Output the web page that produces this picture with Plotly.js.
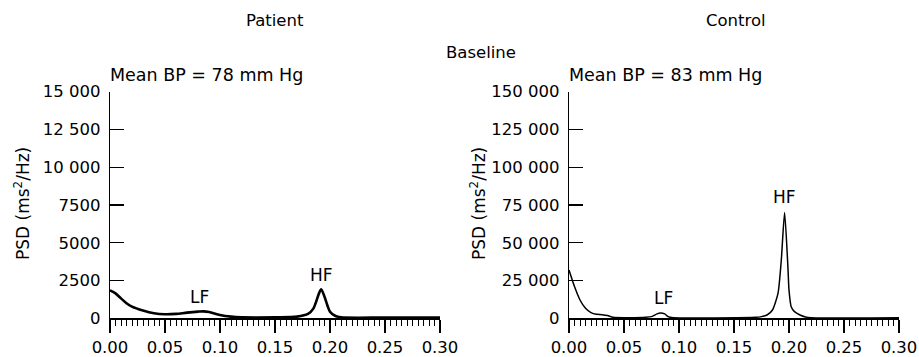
<!DOCTYPE html>
<html><head><meta charset="utf-8">
<script src="https://cdn.plot.ly/plotly-3.0.1.min.js"></script>
<style>body{margin:0;background:#fff}#c{width:919px;height:357px}</style>
</head><body><div id="c"></div>
<script>
const patientFreq = [0,0.005,0.01,0.015,0.02,0.03,0.04,0.05,0.06,0.07,0.08,0.085,0.09,0.10,0.11,0.12,0.15,0.17,0.18,0.185,0.19,0.192,0.195,0.20,0.205,0.21,0.25,0.30];
const patientPSD  = [1850,1650,1320,1000,770,510,330,265,290,375,440,460,420,220,110,66,66,110,290,660,1650,1920,1430,440,155,66,50,50];
const controlFreq = [0,0.005,0.01,0.015,0.02,0.025,0.03,0.035,0.04,0.05,0.07,0.075,0.08,0.083,0.087,0.09,0.095,0.17,0.175,0.18,0.185,0.19,0.193,0.196,0.199,0.20,0.202,0.205,0.21,0.215,0.22,0.30];
const controlPSD  = [32000,21000,12100,6600,3750,2650,2400,1800,660,400,660,1100,2900,3500,2900,1100,400,660,1100,2200,5500,16500,38600,70000,34000,18750,7700,4400,2200,900,400,400];
const xTickVals = [0,0.05,0.10,0.15,0.20,0.25,0.30];
const xTickText = ["0.00","0.05","0.10","0.15","0.20","0.25","0.30"];
const yLeftVals = [0,2500,5000,7500,10000,12500,15000];
const yLeftText = ["0","2500","5000","7500","10 000","12 500","15 000"];
const yRightVals = [0,25000,50000,75000,100000,125000,150000];
const yRightText = ["0","25 000","50 000","75 000","100 000","125 000","150 000"];
const panelTitles = ["Patient","Control"];
const meanBP = ["Mean BP = 78 mm Hg","Mean BP = 83 mm Hg"];
const peakLabels = [
  {x:0.0818,y:1430,t:"LF",ax:"x",ay:"y"},
  {x:0.1924,y:2870,t:"HF",ax:"x",ay:"y"},
  {x:0.0855,y:13200,t:"LF",ax:"x2",ay:"y2"},
  {x:0.196,y:80500,t:"HF",ax:"x2",ay:"y2"}
];

const F = "DejaVu Sans, sans-serif";
const W = 919, H = 357;
const px = v => v / W, py = v => (H - v) / H;

const traces = [
  {x:patientFreq, y:patientPSD, type:"scatter", mode:"lines", line:{color:"#000",width:2.6,shape:"spline",smoothing:0.8}, xaxis:"x", yaxis:"y", hoverinfo:"skip"},
  {x:controlFreq, y:controlPSD, type:"scatter", mode:"lines", line:{color:"#000",width:1.5,shape:"spline",smoothing:0.6}, xaxis:"x2", yaxis:"y2", hoverinfo:"skip"}
];

function xAx(dom, anchor){
  return {domain:dom, anchor:anchor, range:[0,0.30], showgrid:false, zeroline:false,
    showline:true, linecolor:"#000", linewidth:1.3,
    tickmode:"array", tickvals:xTickVals, ticktext:xTickText,
    ticks:"outside", ticklen:13, tickwidth:1.2, tickcolor:"#000",
    ticklabelstandoff:1,
    minor:{dtick:0.005, tick0:0, ticks:"outside", ticklen:6, tickwidth:1, tickcolor:"#000", showgrid:false},
    tickfont:{family:F,size:16.5,color:"#000"}, fixedrange:true};
}
function yAx(dom, anchor, vals, text){
  return {domain:dom, anchor:anchor, range:[0, vals[vals.length-1]], showgrid:false, zeroline:false,
    showline:true, linecolor:"#000", linewidth:1.3,
    tickmode:"array", tickvals:vals, ticktext:text,
    ticks:"inside", ticklen:14, tickwidth:1.2, tickcolor:"#000",
    ticklabelstandoff:5,
    tickfont:{family:F,size:16.5,color:"#000"}, fixedrange:true};
}
const yDom = [py(318.3), py(91.7)];
const ann = [];
function addPaper(x, y, text, size, extra){
  ann.push(Object.assign({xref:"paper",yref:"paper",x:px(x),y:py(y),text:text,showarrow:false,
    xanchor:"center",yanchor:"middle",font:{family:F,size:size,color:"#000"}}, extra||{}));
}
addPaper(275, 20, panelTitles[0], 16.5);
addPaper(736, 20, panelTitles[1], 16.5);
addPaper(481, 52, "Baseline", 16.5);
addPaper(108, 75, meanBP[0], 17.5, {xanchor:"left"});
addPaper(567, 75, meanBP[1], 17.5, {xanchor:"left"});
addPaper(22, 204, "PSD (ms<sup>2</sup>/Hz)", 17, {textangle:-90});
addPaper(478, 204, "PSD (ms<sup>2</sup>/Hz)", 17, {textangle:-90});
peakLabels.forEach(p => ann.push({xref:p.ax,yref:p.ay,x:p.x,y:p.y,text:p.t,showarrow:false,
  xanchor:"center",yanchor:"middle",font:{family:F,size:17,color:"#000"}}));

const layout = {
  width:W, height:H, margin:{l:0,r:0,t:0,b:0}, showlegend:false,
  paper_bgcolor:"#fff", plot_bgcolor:"#fff",
  xaxis: xAx([px(110),px(440)], "y"),
  yaxis: yAx(yDom, "x", yLeftVals, yLeftText),
  xaxis2: xAx([px(569),px(899)], "y2"),
  yaxis2: yAx(yDom, "x2", yRightVals, yRightText),
  annotations: ann
};
Plotly.newPlot("c", traces, layout, {staticPlot:true, displayModeBar:false});
</script></body></html>
